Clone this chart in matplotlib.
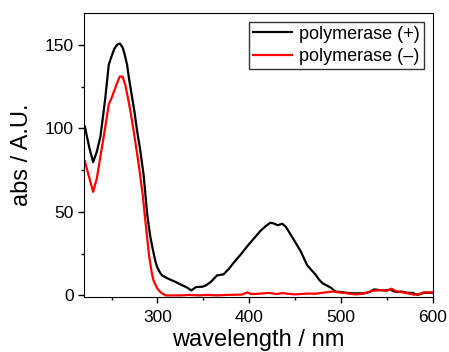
import numpy as np
import matplotlib
matplotlib.use("Agg")
import matplotlib.pyplot as plt
from matplotlib.ticker import MultipleLocator

plt.rcParams['font.family'] = ['Liberation Sans', 'DejaVu Sans']

# polymerase (+)
wl_plus = [221, 226, 230, 234, 238, 243, 247, 250, 253, 256, 259, 262, 264, 267, 269,
           272, 275, 278, 281, 285, 289, 292, 295, 298, 300, 303, 305, 310, 315, 320,
           325, 332, 337, 342, 349, 353, 358, 365, 372, 378, 383, 390, 398,
           405, 412, 418, 423, 427, 431, 436, 440, 445, 450, 456, 463, 468, 472, 476,
           480, 485, 489, 494, 500, 507, 514, 520, 525, 531, 536, 542, 547, 554, 558,
           561, 566, 572, 578, 583, 587, 590, 595, 599]
abs_plus = [101, 88, 79.8, 86, 95.3, 117, 138, 143, 147.5, 150, 150.8, 148.5, 145, 138, 130,
            120, 110, 98, 88, 72, 48, 36, 27.5, 20, 16.6, 13.5, 12, 10.5, 9.2, 8,
            6.6, 4.8, 3, 5, 5.2, 6, 8, 12, 12.6, 16, 19.5, 24, 29.5,
            34, 38.5, 41.5, 43.5, 43, 42, 42.9, 41, 36.5, 32, 26.5, 18.2, 15, 12.6, 9.5,
            7.2, 5.8, 4.6, 2.2, 2, 1.5, 1.2, 1.3, 1.2, 2, 3.6, 3.2, 3, 3.4, 2.4,
            2, 2.3, 1.6, 1.5, 0.4, 0.8, 1.6, 1.6, 1.6]

# polymerase (-)
wl_minus = [221, 226, 230, 234, 238, 243, 247, 250, 253, 256, 259, 262, 265, 268, 271,
            274, 277, 280, 284, 287, 291, 294, 296, 300, 304, 309, 315, 325, 335, 345,
            355, 365, 375, 385, 392, 398, 402,
            408, 415, 422, 430, 436, 442, 450, 458, 465, 472, 480, 486, 492, 498, 504,
            510, 516, 522, 528, 534, 540, 545, 550, 555, 560, 565, 570, 575, 580, 585,
            590, 595, 599]
abs_minus = [80.4, 70, 62, 70, 83.4, 100, 114.3, 118, 122.5, 127, 131, 131, 126, 118, 109,
             99, 88, 77, 60, 44, 23.5, 13, 8.6, 4, 1.6, 0, 0, 0, 0.3, 0,
             0.3, 0, 0.3, 0.4, 0.5, 1.8, 0.8,
             0.9, 1.2, 1.5, 0.8, 1.4, 1.0, 0.6, 0.9, 1.1, 1.0, 1.6, 2.0, 2.3, 1.8, 1.5,
             1.0, 0.6, 0.9, 1.6, 2.8, 3.0, 3.2, 2.8, 4.0, 2.5, 2.0, 1.5, 1.0, 0.4, 0.8,
             1.8, 1.8, 1.8]

fig = plt.figure(figsize=(4.49, 3.52), dpi=100)
ax = fig.add_axes([0.187, 0.156, 0.777, 0.807])

ax.plot(wl_plus, abs_plus, color='black', lw=1.6, label='polymerase (+)')
ax.plot(wl_minus, abs_minus, color='red', lw=1.6, label='polymerase (–)')

ax.set_xlim(220, 600)
ax.set_ylim(-1, 169)
ax.xaxis.set_major_locator(MultipleLocator(100))
ax.xaxis.set_minor_locator(MultipleLocator(50))
ax.yaxis.set_major_locator(MultipleLocator(50))
ax.yaxis.set_minor_locator(MultipleLocator(25))
ax.tick_params(which='major', direction='out', length=4, width=1, labelsize=12.5)
ax.tick_params(axis='x', which='major', pad=5)
ax.tick_params(which='minor', direction='out', length=2.5, width=1)

ax.set_xlabel('wavelength / nm', fontsize=17, labelpad=3)
ax.set_ylabel('abs / A.U.', fontsize=17, labelpad=8)

leg = ax.legend(loc='upper right', fontsize=13, frameon=True, fancybox=False,
                handlelength=2.2, handletextpad=0.4, borderpad=0.2,
                labelspacing=0.3, borderaxespad=0.5)
leg.get_frame().set_edgecolor('black')
leg.get_frame().set_linewidth(1)

fig.savefig('out.png', dpi=100)
